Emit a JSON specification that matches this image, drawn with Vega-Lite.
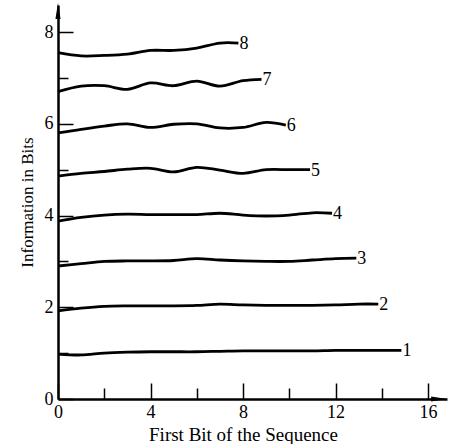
{
  "$schema": "https://vega.github.io/schema/vega-lite/v6.json",
  "width": 389,
  "height": 394,
  "autosize": "none",
  "padding": {"left": 58, "top": 5, "right": 5, "bottom": 45},
  "background": "white",
  "config": {
    "view": {"stroke": null},
    "font": "Liberation Serif"
  },
  "datasets": {
    "lines": [
      {"n":1,"x":0,"y":0.98},{"n":1,"x":1,"y":0.96},{"n":1,"x":2,"y":1.0},{"n":1,"x":3,"y":1.02},{"n":1,"x":4,"y":1.03},{"n":1,"x":5,"y":1.03},{"n":1,"x":6,"y":1.03},{"n":1,"x":7,"y":1.04},{"n":1,"x":8,"y":1.05},{"n":1,"x":9,"y":1.05},{"n":1,"x":10,"y":1.05},{"n":1,"x":11,"y":1.05},{"n":1,"x":12,"y":1.06},{"n":1,"x":13,"y":1.06},{"n":1,"x":14,"y":1.06},{"n":1,"x":14.85,"y":1.06},
      {"n":2,"x":0,"y":1.92},{"n":2,"x":1,"y":1.98},{"n":2,"x":2,"y":2.02},{"n":2,"x":3,"y":2.03},{"n":2,"x":4,"y":2.03},{"n":2,"x":5,"y":2.03},{"n":2,"x":6,"y":2.04},{"n":2,"x":7,"y":2.07},{"n":2,"x":8,"y":2.05},{"n":2,"x":9,"y":2.04},{"n":2,"x":10,"y":2.04},{"n":2,"x":11,"y":2.04},{"n":2,"x":12,"y":2.05},{"n":2,"x":13,"y":2.07},{"n":2,"x":13.85,"y":2.07},
      {"n":3,"x":0,"y":2.9},{"n":3,"x":1,"y":2.95},{"n":3,"x":2,"y":3.0},{"n":3,"x":3,"y":3.01},{"n":3,"x":4,"y":3.01},{"n":3,"x":5,"y":3.02},{"n":3,"x":6,"y":3.06},{"n":3,"x":7,"y":3.03},{"n":3,"x":8,"y":3.01},{"n":3,"x":9,"y":3.0},{"n":3,"x":10,"y":3.0},{"n":3,"x":11,"y":3.03},{"n":3,"x":12,"y":3.06},{"n":3,"x":12.9,"y":3.07},
      {"n":4,"x":0,"y":3.88},{"n":4,"x":1,"y":3.96},{"n":4,"x":2,"y":4.01},{"n":4,"x":3,"y":4.03},{"n":4,"x":4,"y":4.02},{"n":4,"x":5,"y":4.02},{"n":4,"x":6,"y":4.02},{"n":4,"x":7,"y":4.05},{"n":4,"x":8,"y":4.01},{"n":4,"x":9,"y":3.99},{"n":4,"x":10,"y":4.01},{"n":4,"x":11,"y":4.06},{"n":4,"x":11.85,"y":4.05},
      {"n":5,"x":0,"y":4.86},{"n":5,"x":1,"y":4.92},{"n":5,"x":2,"y":4.96},{"n":5,"x":3,"y":5.01},{"n":5,"x":4,"y":5.03},{"n":5,"x":5,"y":4.95},{"n":5,"x":6,"y":5.05},{"n":5,"x":7,"y":4.99},{"n":5,"x":8,"y":4.92},{"n":5,"x":9,"y":5.0},{"n":5,"x":10,"y":5.0},{"n":5,"x":10.9,"y":5.0},
      {"n":6,"x":0,"y":5.8},{"n":6,"x":1,"y":5.88},{"n":6,"x":2,"y":5.95},{"n":6,"x":3,"y":6.0},{"n":6,"x":4,"y":5.92},{"n":6,"x":5,"y":5.99},{"n":6,"x":6,"y":6.0},{"n":6,"x":7,"y":5.91},{"n":6,"x":8,"y":5.92},{"n":6,"x":9,"y":6.03},{"n":6,"x":9.85,"y":5.97},
      {"n":7,"x":0,"y":6.7},{"n":7,"x":1,"y":6.82},{"n":7,"x":2,"y":6.83},{"n":7,"x":3,"y":6.75},{"n":7,"x":4,"y":6.89},{"n":7,"x":5,"y":6.83},{"n":7,"x":6,"y":6.93},{"n":7,"x":7,"y":6.82},{"n":7,"x":8,"y":6.94},{"n":7,"x":8.8,"y":6.97},
      {"n":8,"x":0,"y":7.55},{"n":8,"x":1,"y":7.48},{"n":8,"x":2,"y":7.49},{"n":8,"x":3,"y":7.52},{"n":8,"x":4,"y":7.6},{"n":8,"x":5,"y":7.6},{"n":8,"x":6,"y":7.65},{"n":8,"x":7,"y":7.76},{"n":8,"x":7.8,"y":7.76}
    ],
    "arrows": [
      {"axis":"y","x":0,"y":8.46},
      {"axis":"x","x":16.48,"y":0}
    ]
  },
  "layer": [
    {
      "data": {"name": "lines"},
      "mark": {"type": "line", "color": "black", "strokeWidth": 2.8, "interpolate": "catmull-rom"},
      "encoding": {
        "x": {"field": "x", "type": "quantitative", "scale": {"domain": [0, 16.82], "nice": false, "zero": false},
          "axis": {"values": [0,2,4,6,8,10,12,14,16], "labelExpr": "datum.value % 4 === 0 ? datum.label : ''",
            "grid": false, "domainColor": "black", "domainWidth": 2.5, "tickColor": "black", "tickWidth": 1.5,
            "tickSize": {"condition": {"test": "datum.value % 4 === 0", "value": -16}, "value": -11},
            "labelPadding": 20, "labelAlign": "center", "labelFont": "Liberation Serif", "labelFontSize": 18, "labelColor": "black",
            "title": "First Bit of the Sequence", "titleFont": "Liberation Serif", "titleFontSize": 19, "titleFontWeight": "normal", "titleColor": "black",
            "titleX": 185, "titleY": 35, "titleBaseline": "middle", "titleAlign": "center", "titleAnchor": null}},
        "y": {"field": "y", "type": "quantitative", "scale": {"domain": [0, 8.59], "nice": false, "zero": false},
          "axis": {"values": [0,1,2,3,4,5,6,7,8], "labelExpr": "datum.value % 2 === 0 ? datum.label : ''",
            "grid": false, "domainColor": "black", "domainWidth": 2.5, "tickColor": "black", "tickWidth": 1.5,
            "tickSize": {"condition": {"test": "datum.value % 2 === 0", "value": -15}, "value": -10},
            "labelPadding": 20, "labelFont": "Liberation Serif", "labelFontSize": 18, "labelColor": "black",
            "title": "Information in Bits", "titleFont": "Liberation Serif", "titleFontSize": 17, "titleFontWeight": "normal", "titleColor": "black",
            "titleX": -31, "titleY": 197, "titleBaseline": "middle", "titleAlign": "center", "titleAnchor": null}},
        "detail": {"field": "n", "type": "nominal"},
        "order": {"field": "x", "type": "quantitative"}
      }
    },
    {
      "data": {"name": "lines"},
      "transform": [
        {"joinaggregate": [{"op": "max", "field": "x", "as": "xmax"}], "groupby": ["n"]},
        {"filter": "datum.x === datum.xmax"}
      ],
      "mark": {"type": "text", "align": "left", "baseline": "middle", "dx": 1, "dy": 1, "fontSize": 18, "font": "Liberation Serif", "color": "black"},
      "encoding": {
        "x": {"field": "x", "type": "quantitative"},
        "y": {"field": "y", "type": "quantitative"},
        "text": {"field": "n", "type": "nominal"}
      }
    },
    {
      "data": {"name": "arrows"},
      "transform": [{"filter": "datum.axis === 'y'"}],
      "mark": {"type": "point", "shape": "M0,-1L-0.32,1L0.32,1Z", "filled": true, "color": "black", "size": 256, "opacity": 1},
      "encoding": {
        "x": {"field": "x", "type": "quantitative"},
        "y": {"field": "y", "type": "quantitative"}
      }
    },
    {
      "data": {"name": "arrows"},
      "transform": [{"filter": "datum.axis === 'x'"}],
      "mark": {"type": "point", "shape": "M1,0L-1,-0.32L-1,0.32Z", "filled": true, "color": "black", "size": 256, "opacity": 1},
      "encoding": {
        "x": {"field": "x", "type": "quantitative"},
        "y": {"field": "y", "type": "quantitative"}
      }
    }
  ]
}
